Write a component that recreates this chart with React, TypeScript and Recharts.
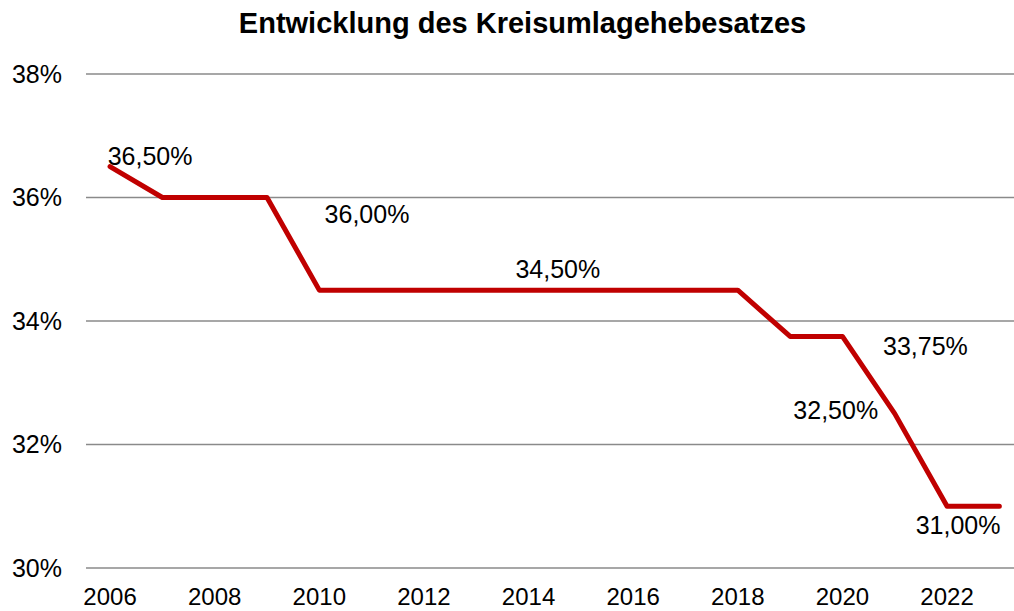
import { LineChart, Line, XAxis, YAxis, CartesianGrid, LabelList } from "recharts";

const years = [2006, 2007, 2008, 2009, 2010, 2011, 2012, 2013, 2014, 2015, 2016, 2017, 2018, 2019, 2020, 2021, 2022, 2023];
const rates = [36.5, 36, 36, 36, 34.5, 34.5, 34.5, 34.5, 34.5, 34.5, 34.5, 34.5, 34.5, 33.75, 33.75, 32.5, 31, 31];
const xTicks = [2006, 2008, 2010, 2012, 2014, 2016, 2018, 2020, 2022];
const yTicks = [30, 32, 34, 36, 38];
// years that carry a data label (Excel put them in odd spots)
const labelYears = [2006, 2009, 2015, 2020, 2021, 2022];

const data = years.map((year, i) => ({ year, rate: rates[i] }));

const FONT = '"Liberation Sans", Arial, sans-serif';

// manual nudges, matching the original label placement
const labelOffset: Record<number, [number, number]> = {
  2006: [40, -2],
  2009: [100, 25],
  2015: [-23, -12],
  2020: [83, 19],
  2021: [-59, 5],
  2022: [11, 28],
};

const fmt = (v: number) => v.toFixed(2).replace(".", ",") + "%";

// eslint-disable-next-line @typescript-eslint/no-explicit-any
const RateLabel = (props: any) => {
  const { x, y, index } = props;
  const year = years[index];
  if (!labelYears.includes(year)) return null;
  const [dx, dy] = labelOffset[year];
  return (
    <text x={x + dx} y={y + dy} textAnchor="middle" fontSize={25} fontFamily={FONT} fill="#000">
      {fmt(rates[index])}
    </text>
  );
};

export default function App() {
  return (
    <div style={{ position: "absolute", left: 0, top: 0, width: 1014, height: 611, background: "#fff" }}>
      <div
        style={{
          position: "absolute",
          left: 0,
          top: 9,
          width: 1045,
          textAlign: "center",
          fontFamily: FONT,
          fontWeight: "bold",
          fontSize: 29,
          lineHeight: "29px",
          color: "#000",
        }}
      >
        Entwicklung des Kreisumlagehebesatzes
      </div>
      <LineChart width={1014} height={611} data={data} margin={{ top: 74, right: 0, left: 0, bottom: 0 }}>
        <CartesianGrid vertical={false} stroke="#8a8a8a" strokeWidth={1.5} />
        <XAxis
          dataKey="year"
          type="number"
          domain={[2005.54, 2023.28]}
          ticks={xTicks}
          height={43}
          axisLine={false}
          tickLine={false}
          tickSize={0}
          tickMargin={20}
          tick={{ fontSize: 24, fontFamily: FONT, fill: "#000" }}
        />
        <YAxis
          type="number"
          domain={[30, 38]}
          ticks={yTicks}
          width={86}
          axisLine={false}
          tickLine={false}
          tickSize={0}
          tickMargin={24}
          tickFormatter={(v) => `${v}%`}
          tick={{ fontSize: 25, fontFamily: FONT, fill: "#000" }}
        />
        <Line
          dataKey="rate"
          stroke="#C00000"
          strokeWidth={5}
          strokeLinejoin="round"
          strokeLinecap="round"
          dot={false}
          activeDot={false}
          isAnimationActive={false}
        >
          <LabelList dataKey="rate" content={<RateLabel />} />
        </Line>
      </LineChart>
    </div>
  );
}
